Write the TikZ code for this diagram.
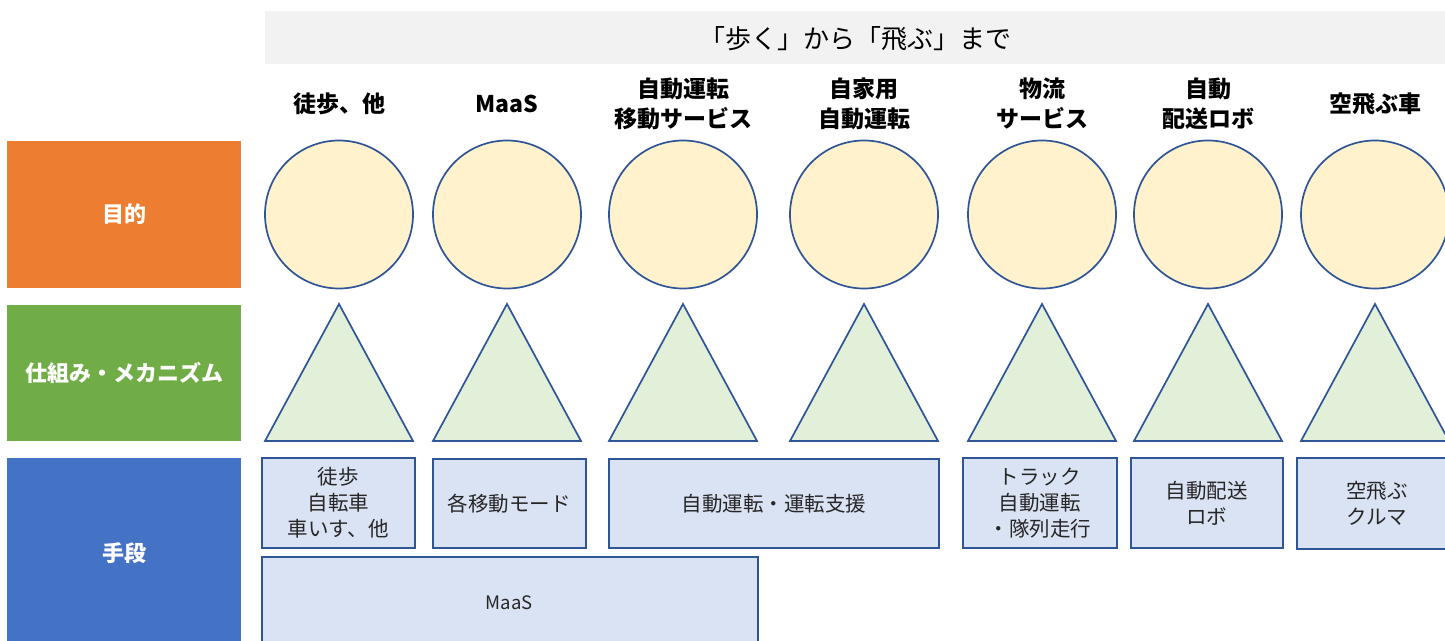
\documentclass[tikz,border=0pt]{standalone}
\usepackage{fontspec}
\newfontfamily\jp{Noto Sans CJK JP}
\definecolor{bord}{HTML}{2F5597}
\definecolor{circfill}{HTML}{FFF2CC}
\definecolor{trifill}{HTML}{E2F0D9}
\definecolor{boxfill}{HTML}{DAE3F3}
\definecolor{titlegray}{HTML}{F2F2F2}
\definecolor{labor}{HTML}{ED7D31}
\definecolor{labgr}{HTML}{70AD47}
\definecolor{labbl}{HTML}{4472C4}
\tikzset{
  lab/.style={inner sep=0pt, text=white, font=\jp\bfseries\fontsize{22}{26}\selectfont, minimum width=234pt},
  head/.style={align=center, inner sep=0pt, font=\jp\bfseries\fontsize{23}{30}\selectfont},
  purpose/.style={circle, draw=bord, line width=1.7pt, fill=circfill, minimum size=148pt, inner sep=0pt},
  tri/.style={draw=bord, line width=1.7pt, fill=trifill, line join=miter},
  meanbox/.style={draw=bord, line width=1.7pt, fill=boxfill, align=center, inner sep=0pt, anchor=north west, font=\jp\fontsize{20.5}{26}\selectfont, text=black!85}
}
\begin{document}
\begin{tikzpicture}[x=1pt,y=-1pt]
\useasboundingbox (0,0) rectangle (1445,640);
\clip (0,0) rectangle (1445,640);
\fill[white] (0,0) rectangle (1445,640);
% title bar
\node[fill=titlegray, minimum width=1180pt, minimum height=53pt, anchor=north west, inner sep=0pt] (bar) at (265,11) {};
\node[font=\jp\fontsize{26}{30}\selectfont, inner sep=0pt] (title) at (855,39) {「歩く」から「飛ぶ」まで};
% left labels
\node[lab, fill=labor, minimum height=147pt] (l1) at (124,214.5) {目的};
\node[lab, fill=labgr, minimum height=136pt] (l2) at (124,373) {仕組み・メカニズム};
\node[lab, fill=labbl, minimum height=190pt] (l3) at (124,553) {手段};
% headers
\node[head] (h1) at (339,103.5) {徒歩、他};
\node[head] (h2) at (507,103.5) {MaaS};
\node[head] (h3) at (683,103.5) {自動運転\\移動サービス};
\node[head] (h4) at (864,103.5) {自家用\\自動運転};
\node[head] (h5) at (1042,103.5) {物流\\サービス};
\node[head] (h6) at (1208,103.5) {自動\\配送ロボ};
\node[head] (h7) at (1375,103.5) {空飛ぶ車};
% circles and triangles
\foreach \i/\x in {1/339,2/507,3/683,4/864,5/1042,6/1208,7/1375}{
  \node[purpose] (c\i) at (\x,214.5) {};
  \coordinate (ta\i) at (\x,304);
  \coordinate (tl\i) at (\x-74,441);
  \coordinate (tr\i) at (\x+74,441);
  \draw[tri] (ta\i) -- (tr\i) -- (tl\i) -- cycle;
}
% means boxes
\node[meanbox, minimum width=153pt, minimum height=90pt] (m1) at (261,457) {徒歩\\自転車\\車いす、他};
\node[meanbox, minimum width=153pt, minimum height=89pt] (m2) at (432,458) {各移動モード};
\node[meanbox, minimum width=330pt, minimum height=89pt] (m3) at (608,458) {自動運転・運転支援};
\node[meanbox, minimum width=154pt, minimum height=90pt] (m4) at (962,457) {トラック\\自動運転\\・隊列走行};
\node[meanbox, minimum width=152pt, minimum height=90pt] (m5) at (1130,457) {自動配送\\ロボ};
\node[meanbox, minimum width=160pt, minimum height=91pt] (m6) at (1296,457) {空飛ぶ\\クルマ};
\node[meanbox, minimum width=496pt, minimum height=100pt] (m7) at (261,556) {};
\node[font=\jp\fontsize{18.5}{24}\selectfont, inner sep=0pt, text=black!85] (m7t) at (509,603) {MaaS};
\end{tikzpicture}
\end{document}
